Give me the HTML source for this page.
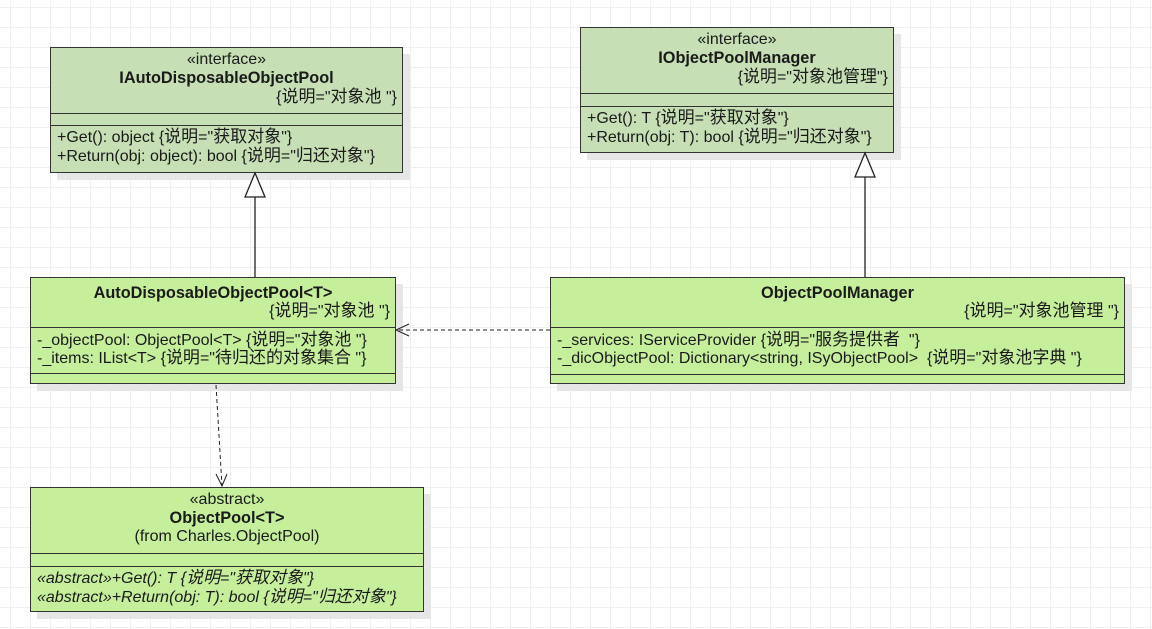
<!DOCTYPE html>
<html><head><meta charset="utf-8"><style>
body{margin:0;width:1152px;height:629px;overflow:hidden;background:#fff;
background-image:linear-gradient(#efefef 1px,transparent 1px),linear-gradient(90deg,#efefef 1px,transparent 1px);
background-size:20px 20px;background-position:10px 7px;
font-family:"Liberation Sans","Noto Sans CJK SC",sans-serif;font-size:16px;color:#1a1a1a;position:relative}
.b{position:absolute;border:1px solid #333;box-sizing:border-box;box-shadow:7px 7px 0 #e6e6e6}
.i{background:#c6dfb5}.c{background:#c6ef9c}
.t{position:absolute;white-space:nowrap;line-height:18px}
.h{position:absolute;left:0;right:0;border-top:1px solid #333}
.ctr{left:0;right:0;text-align:center}
.bold{font-weight:bold;font-size:16.3px}
.it{font-style:italic}
.z{font-size:17px;line-height:18px}
svg{z-index:5}
</style></head><body>

<div class="b i" style="left:50px;top:47px;width:353px;height:126px">
<div class="t ctr" style="top:3px">«interface»</div>
<div class="t ctr bold" style="top:21px">IAutoDisposableObjectPool</div>
<div class="t" style="right:5px;top:40px">{<span class="z">说明</span>="<span class="z">对象池</span> "}</div>
<div class="h" style="top:65px"></div><div class="h" style="top:77px"></div>
<div class="t" style="left:6px;top:80px">+Get(): object {<span class="z">说明</span>="<span class="z">获取对象</span>"}</div>
<div class="t" style="left:6px;top:99px">+Return(obj: object): bool {<span class="z">说明</span>="<span class="z">归还对象</span>"}</div>
</div>

<div class="b i" style="left:580px;top:27px;width:314px;height:126px">
<div class="t ctr" style="top:3px">«interface»</div>
<div class="t ctr bold" style="top:21px">IObjectPoolManager</div>
<div class="t" style="right:5px;top:40px">{<span class="z">说明</span>="<span class="z">对象池管理</span>"}</div>
<div class="h" style="top:65px"></div><div class="h" style="top:78px"></div>
<div class="t" style="left:6px;top:81px">+Get(): T {<span class="z">说明</span>="<span class="z">获取对象</span>"}</div>
<div class="t" style="left:6px;top:100px">+Return(obj: T): bool {<span class="z">说明</span>="<span class="z">归还对象</span>"}</div>
</div>

<div class="b c" style="left:30px;top:277px;width:366px;height:107px">
<div class="t ctr bold" style="top:6px">AutoDisposableObjectPool&lt;T&gt;</div>
<div class="t" style="right:5px;top:24px">{<span class="z">说明</span>="<span class="z">对象池</span> "}</div>
<div class="h" style="top:49px"></div>
<div class="t" style="left:6px;top:53px">-_objectPool: ObjectPool&lt;T&gt; {<span class="z">说明</span>="<span class="z">对象池</span> "}</div>
<div class="t" style="left:6px;top:71px">-_items: IList&lt;T&gt; {<span class="z">说明</span>="<span class="z">待归还的对象集合</span> "}</div>
<div class="h" style="top:95px"></div>
</div>

<div class="b c" style="left:550px;top:277px;width:575px;height:107px">
<div class="t ctr bold" style="top:6px">ObjectPoolManager</div>
<div class="t" style="right:5px;top:24px">{<span class="z">说明</span>="<span class="z">对象池管理</span> "}</div>
<div class="h" style="top:49px"></div>
<div class="t" style="left:6px;top:53px">-_services: IServiceProvider {<span class="z">说明</span>="<span class="z">服务提供者</span> &nbsp;"}</div>
<div class="t" style="left:6px;top:71px">-_dicObjectPool: Dictionary&lt;string, ISyObjectPool&gt; &nbsp;{<span class="z">说明</span>="<span class="z">对象池字典</span> "}</div>
<div class="h" style="top:96px"></div>
</div>

<div class="b c" style="left:30px;top:487px;width:394px;height:125px">
<div class="t ctr" style="top:3px">«abstract»</div>
<div class="t ctr bold" style="top:21px">ObjectPool&lt;T&gt;</div>
<div class="t ctr" style="top:40px">(from Charles.ObjectPool)</div>
<div class="h" style="top:65px"></div><div class="h" style="top:78px"></div>
<div class="t it" style="left:6px;top:81px">«abstract»+Get(): T {<span class="z">说明</span>="<span class="z">获取对象</span>"}</div>
<div class="t it" style="left:6px;top:100px">«abstract»+Return(obj: T): bool {<span class="z">说明</span>="<span class="z">归还对象</span>"}</div>
</div>

<svg width="1152" height="629" style="position:absolute;left:0;top:0">
<line x1="255" y1="197" x2="255" y2="277" stroke="#222" stroke-width="1.3"/>
<polygon points="255,173 245,197 265,197" fill="#fff" stroke="#222" stroke-width="1.3"/>
<line x1="865" y1="177" x2="865" y2="277" stroke="#222" stroke-width="1.3"/>
<polygon points="865,153 855,177 875,177" fill="#fff" stroke="#222" stroke-width="1.3"/>
<line x1="550" y1="330" x2="397" y2="330" stroke="#222" stroke-dasharray="4,3"/>
<polyline points="409,324 396,330 409,336" fill="none" stroke="#222"/>
<line x1="216" y1="385" x2="222" y2="486" stroke="#222" stroke-dasharray="4,3"/>
<polyline points="216,474 222,486 227,474" fill="none" stroke="#222"/>
</svg>
</body></html>
